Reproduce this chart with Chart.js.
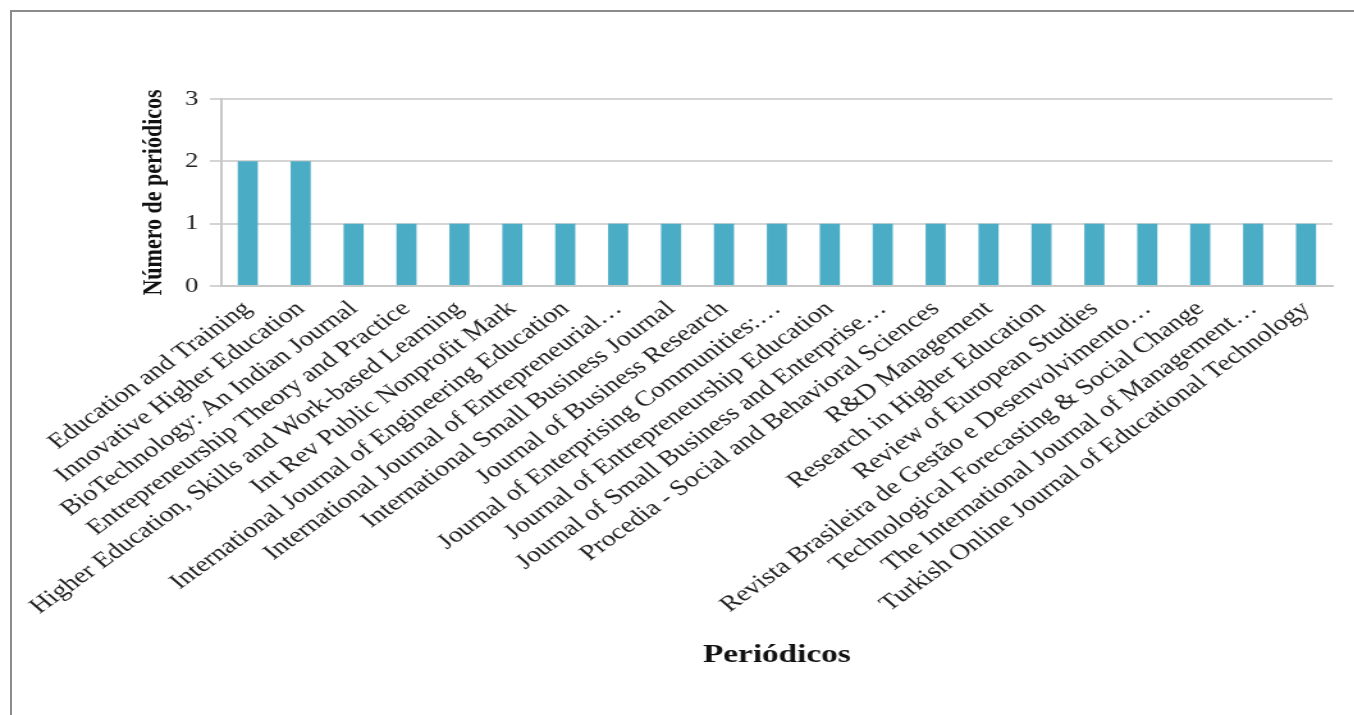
<!DOCTYPE html>
<html>
<head>
<meta charset="utf-8">
<script src="https://cdn.jsdelivr.net/npm/chart.js@4"></script>
<style>
    html, body { margin: 0; padding: 0; background: #fff; overflow: hidden; }
    #frame {
        position: absolute; left: 10px; top: 10px;
        width: 1360px; height: 720px;
        border-left: 2px solid #8c8c8c; border-top: 2px solid #8c8c8c;
        box-sizing: border-box;
    }
    /* the original picture is stretched sideways, so draw narrower and widen it */
    #wrap {
        position: absolute; left: 0; top: 0; width: 1058px; height: 715px;
        transform: scaleX(1.28); transform-origin: 0 0;
    }
</style>
</head>
<body>
<div id="frame"></div>
<div id="wrap"><canvas id="periodicosChart"></canvas></div>
<script>
// periódicos e número de artigos
const periodicos = [
    'Education and Training',
    'Innovative Higher Education',
    'BioTechnology: An Indian Journal',
    'Entrepreneurship Theory and Practice',
    'Higher Education, Skills and Work-based Learning',
    'Int Rev Public Nonprofit Mark',
    'International Journal of Engineering Education',
    'International Journal of Entrepreneurial…',
    'International Small Business Journal',
    'Journal of Business Research',
    'Journal of Enterprising Communities:…',
    'Journal of Entrepreneurship Education',
    'Journal of Small Business and Enterprise…',
    'Procedia - Social and Behavioral Sciences',
    'R&D Management',
    'Research in Higher Education',
    'Review of European Studies',
    'Revista Brasileira de Gestão e Desenvolvimento…',
    'Technological Forecasting & Social Change',
    'The International Journal of Management…',
    'Turkish Online Journal of Educational Technology'
];
const quantidade = [2, 2, 1, 1, 1, 1, 1, 1, 1, 1, 1, 1, 1, 1, 1, 1, 1, 1, 1, 1, 1];
const yTicks = [0, 1, 2, 3];

const serif = "'Liberation Serif', 'Times New Roman', serif";

const ctx = document.getElementById('periodicosChart').getContext('2d');
const chart = new Chart(ctx, {
    type: 'bar',
    data: {
        labels: periodicos,
        datasets: [{
            label: 'Número de periódicos',
            data: quantidade,
            backgroundColor: '#4bacc6',
            barPercentage: 0.38,
            categoryPercentage: 1.0
        }]
    },
    options: {
        responsive: true,
        maintainAspectRatio: false,
        animation: false,
        layout: { padding: { top: 99, left: 103, right: 17, bottom: 40 } },
        plugins: {
            legend: { display: false },
            tooltip: { enabled: false }
        },
        scales: {
            x: {
                // rotated names need more room than the default half-height limit
                afterFit: scale => { scale.height = 389; },
                grid: { display: false },
                border: { display: true, color: '#c8c8c8', width: 2 },
                ticks: {
                    color: '#222',
                    font: { family: serif, size: 22 },
                    minRotation: 42.5,
                    maxRotation: 42.5,
                    autoSkip: false,
                    padding: 2
                },
                title: {
                    display: true,
                    text: 'Periódicos',
                    color: '#111',
                    font: { family: serif, size: 26, weight: 'bold' },
                    padding: { top: 10 }
                }
            },
            y: {
                min: 0,
                max: 3,
                afterBuildTicks: axis => { axis.ticks = yTicks.map(v => ({ value: v })); },
                grid: { color: '#d4d4d4', lineWidth: 2, tickLength: 9 },
                border: { display: true, color: '#c8c8c8', width: 2 },
                ticks: {
                    color: '#222',
                    font: { family: serif, size: 21 },
                    padding: 9
                },
                title: {
                    display: true,
                    text: 'Número de periódicos',
                    color: '#111',
                    font: { family: serif, size: 22, weight: 'bold' },
                    padding: { bottom: 2 }
                }
            }
        }
    }
});
</script>
</body>
</html>
